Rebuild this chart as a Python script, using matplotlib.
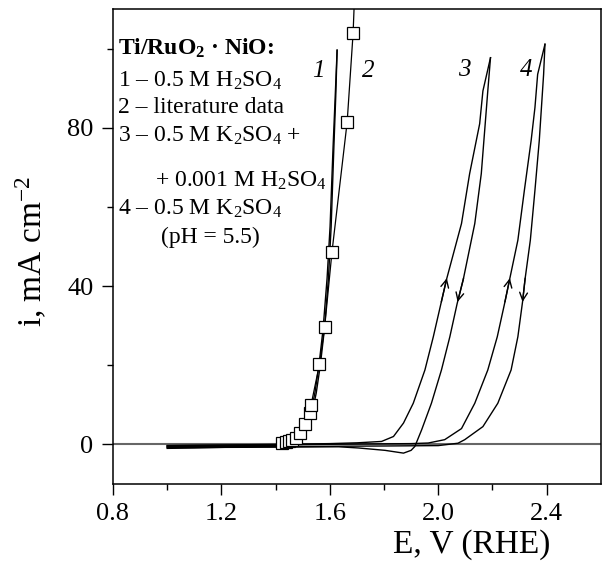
import matplotlib
matplotlib.use("Agg")
import matplotlib.pyplot as plt
import numpy as np

plt.rcParams['font.family'] = ['Liberation Serif', 'DejaVu Serif']
plt.rcParams['mathtext.fontset'] = 'custom'
plt.rcParams['mathtext.rm'] = 'Liberation Serif'
plt.rcParams['mathtext.it'] = 'Liberation Serif:italic'
plt.rcParams['mathtext.bf'] = 'Liberation Serif:bold'

# Curve 1 - 0.5 M H2SO4 (forward and reverse scans)
E1_fwd = [1.00, 1.10, 1.20, 1.30, 1.40, 1.45, 1.48, 1.50, 1.52, 1.535, 1.55, 1.565, 1.58, 1.595, 1.605, 1.615, 1.622, 1.627]
i1_fwd = [-0.6, -0.5, -0.4, -0.3, -0.2, 0.0, 0.8, 2.0, 4.5, 8.0, 13, 20, 29, 42, 55, 75, 88, 99.6]
E1_rev = [1.627, 1.620, 1.612, 1.601, 1.590, 1.575, 1.560, 1.545, 1.530, 1.515, 1.495, 1.475, 1.45, 1.30, 1.10, 1.00]
i1_rev = [99.6, 88, 75, 55, 42, 29, 20, 13, 8, 4.5, 2.0, 0.8, -0.1, -0.6, -0.9, -1.0]

# Curve 2 - literature data (squares)
E2 = [1.425, 1.44, 1.45, 1.46, 1.474, 1.49, 1.507, 1.527, 1.531, 1.562, 1.581, 1.608, 1.664, 1.686, 1.69]
i2 = [0.3, 0.5, 0.8, 1.1, 1.6, 2.9, 5.2, 7.9, 10.0, 20.3, 29.6, 48.6, 81.4, 103.9, 111]

# Curve 3 - 0.5 M K2SO4 + 0.001 M H2SO4
E3_fwd = [1.00, 1.40, 1.60, 1.70, 1.791, 1.835, 1.872, 1.908, 1.951, 1.982, 2.030, 2.086, 2.116, 2.153, 2.165, 2.193]
i3_fwd = [-0.3, 0.0, 0.2, 0.4, 0.75, 2.0, 5.4, 10.4, 18.8, 27.2, 41.5, 55.8, 68.4, 81.0, 89.3, 97.7]
E3_rev = [2.193, 2.183, 2.159, 2.135, 2.092, 2.070, 2.043, 2.012, 1.975, 1.939, 1.914, 1.900, 1.872, 1.804, 1.706, 1.633, 1.40, 1.00]
i3_rev = [97.7, 89.3, 68.4, 55.8, 41.5, 35.6, 27.2, 18.8, 10.4, 3.7, -0.5, -1.5, -2.2, -1.5, -0.9, -0.6, -0.7, -0.8]

# Curve 4 - 0.5 M K2SO4 (pH = 5.5)
E4_fwd = [1.00, 1.40, 1.70, 1.90, 1.963, 2.024, 2.086, 2.135, 2.183, 2.218, 2.245, 2.263, 2.294, 2.318, 2.343, 2.357, 2.367, 2.394]
i4_fwd = [-0.3, -0.1, 0.1, 0.2, 0.35, 1.2, 4.0, 10.4, 18.8, 27.2, 35.6, 41.5, 51.6, 64.2, 76.8, 85.1, 93.5, 101.1]
E4_rev = [2.394, 2.389, 2.373, 2.357, 2.340, 2.320, 2.312, 2.294, 2.269, 2.220, 2.165, 2.098, 2.073, 2.00, 1.80, 1.50, 1.00]
i4_rev = [101.1, 93.5, 76.8, 64.2, 51.6, 41.5, 36.4, 27.2, 18.8, 10.4, 4.5, 1.2, 0.3, -0.3, -0.4, -0.5, -0.6]

# scan-direction arrows: (curve, tip current)
arrow_tips = [("3f", 42.0), ("3r", 36.0), ("4f", 42.0), ("4r", 36.0)]

legend_lines = ["Ti/RuO$_\\mathbf{2}$ · NiO:",
                "1 – 0.5 M H$_2$SO$_4$",
                "2 – literature data",
                "3 – 0.5 M K$_2$SO$_4$ +",
                "+ 0.001 M H$_2$SO$_4$",
                "4 – 0.5 M K$_2$SO$_4$",
                "(pH = 5.5)"]

curve_labels = ["1", "2", "3", "4"]
label_E = [1.556, 1.743, 2.095, 2.324]
label_i = [94.3, 94.3, 94.6, 94.6]

fig = plt.figure(figsize=(6.02, 5.74), dpi=100)
ax = fig.add_axes([0.1877, 0.1568, 0.8103, 0.8275])

ax.axhline(0, color='#666666', lw=1.5, zorder=1)

kw = dict(color='black', lw=1.0)
ax.plot(E1_fwd, i1_fwd, **kw)
ax.plot(E1_rev, i1_rev, **kw)
ax.plot(E2, i2, color='black', lw=0.9, marker='s', markersize=8.5,
        markerfacecolor='white', markeredgecolor='black', markeredgewidth=0.9,
        markevery=list(range(len(E2) - 1)), zorder=3)
ax.plot(E3_fwd, i3_fwd, **kw)
ax.plot(E3_rev, i3_rev, **kw)
ax.plot(E4_fwd, i4_fwd, **kw)
ax.plot(E4_rev, i4_rev, **kw)

curves = {"3f": (E3_fwd, i3_fwd, 1), "3r": (E3_rev, i3_rev, -1),
          "4f": (E4_fwd, i4_fwd, 1), "4r": (E4_rev, i4_rev, -1)}
for name, tip_i in arrow_tips:
    E, i, d = curves[name]
    Ea, ia = np.array(E), np.array(i)
    m = ia > 15
    order = np.argsort(ia[m])
    tail_i = tip_i - 6 * d
    tipE = np.interp(tip_i, ia[m][order], Ea[m][order])
    tailE = np.interp(tail_i, ia[m][order], Ea[m][order])
    ax.annotate("", xy=(tipE, tip_i), xytext=(tailE, tail_i),
                arrowprops=dict(arrowstyle='->', lw=1.0, color='black',
                                mutation_scale=14, shrinkA=0, shrinkB=0))

for t, x, y in zip(curve_labels, label_E, label_i):
    ax.text(x, y, t, fontsize=18, style='italic', ha='center', va='center')

# legend text block
x0 = 0.0095
ys = [0.903, 0.836, 0.781, 0.720, 0.626, 0.567, 0.508]
xs = [x0, x0, x0, x0, 0.086, x0, 0.098]
for k, (t, x, y) in enumerate(zip(legend_lines, xs, ys)):
    ax.text(x, y, t, transform=ax.transAxes, fontsize=17, ha='left', va='baseline',
            fontweight='bold' if k == 0 else 'normal')

ax.set_xlim(0.8, 2.6)
ax.set_ylim(-10, 110)
ax.set_xticks([0.8, 1.2, 1.6, 2.0, 2.4])
ax.set_xticklabels(["0.8", "1.2", "1.6", "2.0", "2.4"])
ax.set_xticks([1.0, 1.4, 1.8, 2.2], minor=True)
ax.set_yticks([0, 40, 80])
ax.set_yticks([20, 60, 100], minor=True)
ax.tick_params(which='major', direction='out', length=8, width=1.0, labelsize=19, pad=6)
ax.tick_params(which='minor', direction='out', length=4.5, width=1.0)
for s in ax.spines.values():
    s.set_linewidth(1.1)

ax.set_xlabel("E, V (RHE)", fontsize=24)
ax.xaxis.set_label_coords(0.736, -0.095)
ax.set_ylabel("i, mA cm$^{-2}$", fontsize=24)
ax.yaxis.set_label_coords(-0.13, 0.49)

fig.savefig("out.png", dpi=100)
